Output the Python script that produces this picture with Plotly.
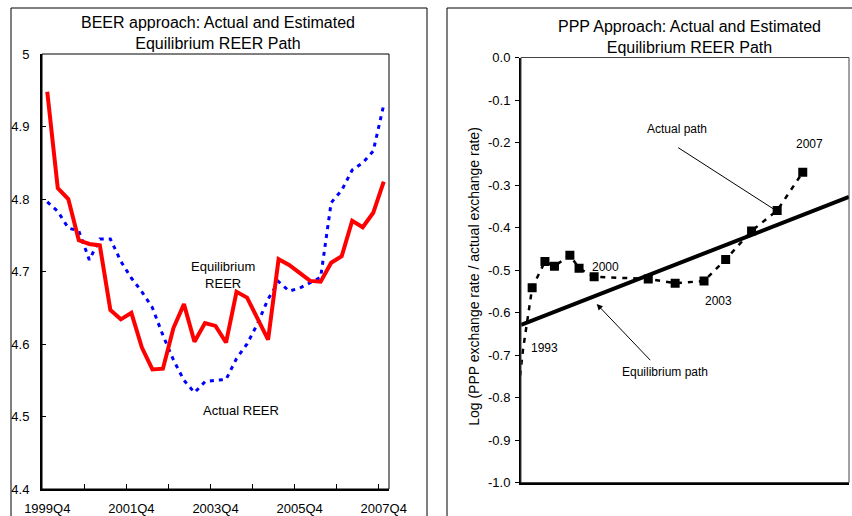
import plotly.graph_objects as go

# ---------------- data ----------------
quarters = [f"{y}Q{q}" for y in range(1999, 2008) for q in range(1, 5)][3:]  # 1999Q4 .. 2007Q4
quarter_labels_shown = ["1999Q4", "2001Q4", "2003Q4", "2005Q4", "2007Q4"]

equilibrium_reer = [4.948, 4.815, 4.800, 4.743, 4.738, 4.736, 4.647, 4.634, 4.643, 4.595,
                    4.565, 4.566, 4.622, 4.655, 4.603, 4.629, 4.625, 4.602, 4.672, 4.664,
                    4.635, 4.606, 4.717, 4.709, 4.698, 4.687, 4.686, 4.712, 4.721, 4.770,
                    4.761, 4.781, 4.824]
actual_reer = [4.796, 4.783, 4.760, 4.756, 4.716, 4.745, 4.745, 4.714, 4.691, 4.672,
               4.650, 4.612, 4.578, 4.550, 4.533, 4.548, 4.550, 4.551, 4.580, 4.600,
               4.628, 4.662, 4.686, 4.673, 4.677, 4.684, 4.692, 4.795, 4.812, 4.840,
               4.850, 4.866, 4.930]

# PPP panel (horizontal axis is unlabelled; values in axis units 0-100)
ppp_years = list(range(1993, 2008))
ppp_x = [-1.0, 0.6, 3.4, 7.3, 10.2, 14.9, 17.7, 22.3, 38.8, 47.0, 55.8, 62.4, 70.3, 78.1, 85.9]
ppp_log = [-0.800, -0.688, -0.542, -0.480, -0.491, -0.465, -0.496, -0.516, -0.521, -0.531,
           -0.526, -0.475, -0.408, -0.360, -0.270]
ppp_marked = [False, False] + [True] * 13
eq_path_x = [0, 100]
eq_path_y = [-0.629, -0.328]
ppp_ticks = [0.0, -0.1, -0.2, -0.3, -0.4, -0.5, -0.6, -0.7, -0.8, -0.9, -1.0]
ppp_ticktext = ["0.0", "-0.1", "-0.2", "-0.3", "-0.4", "-0.5", "-0.6", "-0.7", "-0.8", "-0.9", "-1.0"]

W, H = 852, 516
def px(x):
    return x / W
def py(y):
    return 1 - y / H

FONT = "Arial, Liberation Sans, sans-serif"
idx = list(range(len(quarters)))

fig = go.Figure()
fig.add_trace(go.Scatter(x=idx, y=actual_reer, mode="lines", text=quarters,
                         line=dict(color="#0000ff", width=3, dash="4px,5px"),
                         xaxis="x", yaxis="y", name="Actual REER"))
fig.add_trace(go.Scatter(x=idx, y=equilibrium_reer, mode="lines", text=quarters,
                         line=dict(color="#ff0000", width=4),
                         xaxis="x", yaxis="y", name="Equilibrium REER"))

fig.add_trace(go.Scatter(x=eq_path_x, y=eq_path_y, mode="lines",
                         line=dict(color="black", width=4),
                         xaxis="x2", yaxis="y2", name="Equilibrium path"))
fig.add_trace(go.Scatter(x=ppp_x, y=ppp_log, mode="lines", text=[str(y) for y in ppp_years],
                         line=dict(color="black", width=2.5, dash="5px,6px"),
                         xaxis="x2", yaxis="y2", name="Actual path"))
mx = [x for x, m in zip(ppp_x, ppp_marked) if m]
my = [y for y, m in zip(ppp_log, ppp_marked) if m]
fig.add_trace(go.Scatter(x=mx, y=my, mode="markers",
                         marker=dict(symbol="square", color="#000000", size=9, opacity=1,
                                     line=dict(width=0, color="#000000")),
                         xaxis="x2", yaxis="y2", name="Actual path points"))

axis_common = dict(showgrid=False, zeroline=False, showline=True, linecolor="black",
                   linewidth=2, automargin=False,
                   tickfont=dict(family=FONT, size=13, color="black"))

fig.update_layout(
    width=W, height=H, margin=dict(l=0, r=0, t=0, b=0, autoexpand=False),
    paper_bgcolor="white", plot_bgcolor="white", showlegend=False,
    font=dict(family=FONT, size=13, color="black"),
    xaxis=dict(**axis_common, domain=[px(42), px(389)], range=[-0.5, 32.5],
               tickmode="array", tickvals=[quarters.index(q) for q in quarter_labels_shown],
               ticktext=quarter_labels_shown, ticks="", ticklabelstandoff=6,
               minor=dict(tickmode="array", tickvals=[3.5 + 4 * k for k in range(8)],
                          ticks="inside", ticklen=5, tickwidth=1, tickcolor="black"),
               anchor="y"),
    yaxis=dict(**axis_common, domain=[py(489), py(54)], range=[4.4, 5.0],
               tick0=4.4, dtick=0.1, ticks="inside", ticklen=4, tickwidth=1,
               tickcolor="black", ticklabelstandoff=8, anchor="x"),
    xaxis2=dict(**axis_common, domain=[px(521), px(849)], range=[0, 100],
                showticklabels=False, ticks="", anchor="y2"),
    yaxis2=dict(**axis_common, domain=[py(482.5), py(57.5)], range=[-1.0, 0.0],
                tickmode="array", tickvals=ppp_ticks, ticktext=ppp_ticktext,
                ticks="outside", ticklen=4, tickwidth=1, tickcolor="black",
                ticklabelstandoff=2, anchor="x2"),
)

shapes = [
    # outer panel frames
    dict(type="rect", xref="paper", yref="paper", x0=px(11), x1=px(427), y0=-0.1, y1=py(8),
         line=dict(color="black", width=1)),
    dict(type="rect", xref="paper", yref="paper", x0=px(447), x1=1.1, y0=-0.1, y1=py(8),
         line=dict(color="black", width=1)),
    # plot area frames
    dict(type="rect", xref="x domain", yref="y domain", x0=0, x1=1, y0=0, y1=1,
         line=dict(color="black", width=1)),
    dict(type="rect", xref="x2 domain", yref="y2 domain", x0=0, x1=1, y0=0, y1=1,
         line=dict(color="#444444", width=1)),
]
fig.update_layout(shapes=shapes)

def txt(x, y, s, size=13, **kw):
    return dict(x=px(x), y=py(y), xref="paper", yref="paper", text=s, showarrow=False,
                xanchor="center", yanchor="middle",
                font=dict(family=FONT, size=size, color="black"), **kw)

annotations = [
    txt(218, 32.7, "BEER approach: Actual and Estimated<br>Equilibrium REER Path", size=16),
    txt(689, 36.5, "PPP Approach: Actual and Estimated<br>Equilibrium REER Path", size=16),
    txt(223, 275, "Equilibrium<br>REER", size=13),
    txt(241, 410.7, "Actual REER", size=13),
    txt(473.3, 276.5, "Log (PPP exchange rate / actual exchange rate)", size=14, textangle=-90),
    txt(676.7, 129.3, "Actual path", size=12),
    txt(665, 371.7, "Equilibrium path", size=12),
    txt(544, 347.7, "1993", size=12),
    txt(605.5, 266.7, "2000", size=12),
    txt(718.3, 300.7, "2003", size=12),
    txt(809.3, 144.3, "2007", size=12),
    # pointer lines
    dict(x=px(774), y=py(209.3), xref="paper", yref="paper", text="", showarrow=True,
         arrowhead=0, arrowwidth=1, arrowcolor="black", ax=676.7 - 774, ay=146.7 - 209.3,
         axref="pixel", ayref="pixel"),
    dict(x=px(596.7), y=py(304), xref="paper", yref="paper", text="", showarrow=True,
         arrowhead=2, arrowsize=1.2, arrowwidth=1, arrowcolor="black",
         ax=651.7 - 596.7, ay=361.7 - 304, axref="pixel", ayref="pixel"),
]
fig.update_layout(annotations=annotations)

fig.write_html("out.html")
